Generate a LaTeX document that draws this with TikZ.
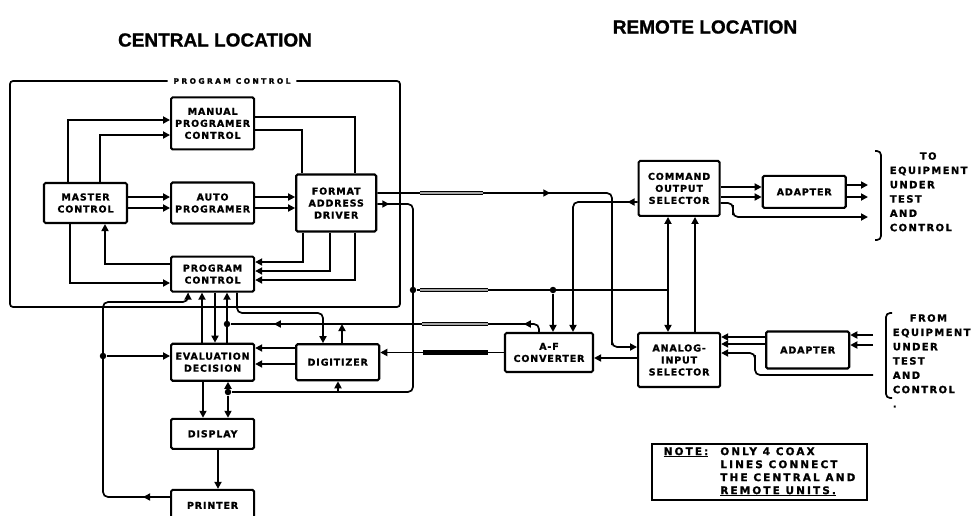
\documentclass[tikz,border=0pt]{standalone}
\usepackage{fontspec}
\usetikzlibrary{positioning,arrows.meta,decorations.markings}
\newfontfamily\blkfont[LetterSpace=9,BoldFeatures={FakeBold=1.2}]{DejaVu Sans}
\newfontfamily\ttlfont[BoldFeatures={FakeBold=1}]{Liberation Sans}

\begin{document}
\begin{tikzpicture}[x=1pt,y=-1pt,line width=1.7pt,>={Triangle[length=7pt,width=7pt]},
  font=\blkfont\bfseries\fontsize{9.5}{12}\selectfont,
  blk/.style={draw,line width=2.1pt,rounded corners=1.5pt,minimum width=83pt,align=center,inner sep=1pt},
  ttl/.style={font=\ttlfont\bfseries\fontsize{19}{22}\selectfont},
  lbl/.style={font=\blkfont\bfseries\fontsize{7.5}{8}\selectfont\addfontfeature{LetterSpace=32},inner xsep=5pt},
  side/.style={font=\blkfont\bfseries\fontsize{10}{14.3}\selectfont\addfontfeature{LetterSpace=14},align=left,inner sep=0pt,anchor=north west},
  dot/.style={circle,fill,inner sep=0pt,minimum size=6.5pt},
  coax/.style={line width=4.5pt},
  coaxh/.style={double=gray!70,double distance=1.3pt,line width=1.6pt},
  midarr/.style={postaction={decorate,decoration={markings,mark=at position #1 with {\arrow{>}}}}}]
  \useasboundingbox (0,0) rectangle (978,515);

  % titles
  \node[ttl] (central) at (215,40) {CENTRAL LOCATION};
  \node[ttl] (remote) at (705,27) {REMOTE LOCATION};

  % central location
  \node[blk,minimum height=40pt] (master) at (85.5,203) {MASTER\\CONTROL};
  \node[blk,minimum height=41pt,right=42pt of master] (auto) {AUTO\\PROGRAMER};
  \node[blk,minimum height=52pt,above=31pt of auto] (manual) {MANUAL\\PROGRAMER\\CONTROL};
  \node[blk,minimum width=80pt,minimum height=57pt,right=40pt of auto] (format) {FORMAT\\ADDRESS\\DRIVER};
  \node[blk,minimum height=35pt,below=31pt of auto] (progctl) {PROGRAM\\CONTROL};
  \node[blk,minimum height=37pt,below=50pt of progctl] (evaldec) {EVALUATION\\DECISION};
  \node[blk,minimum height=36pt,right=40pt of evaldec] (digit) {DIGITIZER};
  \node[blk,minimum height=30pt,below=36pt of evaldec] (display) {DISPLAY};
  \node[blk,minimum height=31pt,below=39pt of display] (printer) {PRINTER};

  % remote location
  \node[blk,minimum width=88pt,minimum height=39pt] (afconv) at (549,352.5) {A-F\\CONVERTER};
  \node[blk,minimum width=82pt,minimum height=54pt,right=43pt of afconv,yshift=-7.5pt] (ais) {ANALOG-\\INPUT\\SELECTOR};
  \node[blk,minimum width=81pt,minimum height=55pt,above=115pt of ais] (cos) {COMMAND\\OUTPUT\\SELECTOR};
  \node[blk,minimum height=32pt,right=41pt of cos,yshift=-3.5pt] (adaptA) {ADAPTER};
  \node[blk,minimum height=37pt,right=44pt of ais,yshift=10pt] (adaptB) {ADAPTER};
  \coordinate (toeq) at (868,0);
  \coordinate (fromeq) at (873,0);

  % program control loop
  \node[lbl] (pclbl) at (232,81) {PROGRAM CONTROL};
  \draw[rounded corners=3pt] (pclbl.west) -| (10,307) -| (400,81) -- (pclbl.east);

  % master / programers / format
  \draw[->] (master.north -| 68,0) |- (manual.west |- 0,120);
  \draw[->] (master.north -| 100,0) |- (manual.west |- 0,135);
  \draw[->] (master.east |- 0,197) -- (auto.west |- 0,197);
  \draw[->] (master.east |- 0,208) -- (auto.west |- 0,208);
  \draw[->] (auto.east |- 0,197) -- (format.west |- 0,197);
  \draw[->] (auto.east |- 0,208) -- (format.west |- 0,208);
  \draw (manual.east |- 0,117) -| (format.north -| 355,0);
  \draw (manual.east |- 0,130) -| (format.north -| 302,0);
  \draw[->] (master.south -| 70,0) |- (progctl.west |- 0,283);
  \draw[->] (progctl.west |- 0,264) -| (master.south -| 105,0);
  \draw[->] (format.south -| 303,0) |- (progctl.east |- 0,262);
  \draw[->] (format.south -| 330,0) |- (progctl.east |- 0,271);
  \draw[->] (format.south -| 355,0) |- (progctl.east |- 0,280);

  % junctions
  \node[dot] (j1) at (228,392) {};
  \node[dot] (j2) at (413,290) {};
  \node[dot] (j3) at (553,290) {};
  \node[dot] (j5) at (227,324) {};
  \node[dot] (j6) at (103,356) {};
  \coordinate (j4) at (668,290);

  % coax lines
  \draw[->,rounded corners=5pt,midarr=173pt] (format.east |- 0,193) -| (612,340) |- (ais.west |- 0,347);
  \draw[rounded corners=5pt,midarr=12pt] (format.east |- 0,204) -| (413,300) |- (j1);
  \draw (j2) -- (j4);
  \draw[->] (j3) -- (afconv.north -| j3);
  \draw[rounded corners=5pt,midarr=21pt,midarr=271pt] (afconv.north -| 539,0) |- (j5);
  \draw[->] (afconv.west) -- (digit.east |- afconv.west);
  \draw[coaxh] (420,193) -- (483,193);
  \draw[coaxh] (420,290) -- (488,290);
  \draw[coaxh] (422,324) -- (488,324);
  \draw[coax] (423,352.5) -- (488,352.5);

  % program control / evaluation / digitizer
  \draw[->] (evaldec.north -| 202,0) -- (progctl.south -| 202,0);
  \draw[->] (progctl.south -| 215,0) -- (evaldec.north -| 215,0);
  \draw[->] (evaldec.north -| j5) -- (progctl.south -| j5);
  \draw[->,rounded corners=5pt] (progctl.south -| 237,0) |- (323,313) -- (digit.north -| 323,0);
  \draw[->] (digit.north -| 342,0) -- (j5 -| 342,0);
  \draw[->] (digit.west |- 0,348) -- (evaldec.east |- 0,348);
  \draw[->] (digit.west |- 0,364) -- (evaldec.east |- 0,364);
  \draw[->] (j1) -- (evaldec.south -| j1);
  \draw[->] (j1) -- (display.north -| j1);
  \draw[->] (j1 -| 338,0) -- (digit.south -| 338,0);
  \draw[->] (evaldec.south -| 203,0) -- (display.north -| 203,0);
  \draw[->] (display.south -| 218,0) -- (printer.north -| 218,0);
  \draw[->,rounded corners=5pt,midarr=27pt] (printer.west |- 0,497) -| (103,302) -| (progctl.south -| 188,0);
  \draw[->] (j6) -- (evaldec.west |- j6);

  % remote connections
  \draw[<->] (cos.south -| 668,0) -- (ais.north -| 668,0);
  \draw[->] (ais.north -| 695,0) -- (cos.south -| 695,0);
  \draw[->,rounded corners=5pt,midarr=10pt] (cos.west |- 0,202) -| (afconv.north -| 573,0);
  \draw[->] (ais.west |- 0,358) -- (afconv.east |- 0,358);
  \draw[->] (cos.east |- 0,187) -- (adaptA.west |- 0,187);
  \draw[->] (cos.east |- 0,197) -- (adaptA.west |- 0,197);
  \draw[->] (adaptA.east |- 0,185) -- (toeq |- 0,185);
  \draw[->] (adaptA.east |- 0,197) -- (toeq |- 0,197);
  \draw[->,rounded corners=5pt] (cos.east |- 0,203) -| (733,210) |- (toeq |- 0,217);
  \draw[->] (fromeq |- 0,335) -- (adaptB.east |- 0,335);
  \draw[->] (fromeq |- 0,345) -- (adaptB.east |- 0,345);
  \draw[->] (adaptB.west |- 0,337) -- (ais.east |- 0,337);
  \draw[->] (adaptB.west |- 0,344) -- (ais.east |- 0,344);
  \draw[->,rounded corners=5pt] (fromeq |- 0,375) -| (755,360) |- (ais.east |- 0,353);

  % equipment side
  \draw[rounded corners=4pt] (875,151) -| (881,240) -- (875,240);
  \draw[rounded corners=4pt] (892,313) -| (886,398) -- (892,398);
  \node[side] (toeqtxt) at (889,151.4) {\hspace*{30pt}TO\\EQUIPMENT\\UNDER\\TEST\\AND\\CONTROL};
  \node[side] (fromeqtxt) at (892,313.4) {\hspace*{17pt}FROM\\EQUIPMENT\\UNDER\\TEST\\AND\\CONTROL\\.};

  % note
  \node[draw,line width=1.8pt,minimum width=215pt,minimum height=56pt,inner sep=1pt,
    font=\blkfont\bfseries\fontsize{10.5}{13}\selectfont\addfontfeature{LetterSpace=20}] (note) at (759.5,472)
    {\begin{tabular}{@{}l@{\hspace{12pt}}l@{}}\underline{NOTE:} & ONLY 4 COAX\\ & LINES CONNECT\\ & THE CENTRAL AND\\ & \underline{REMOTE UNITS.}\end{tabular}};
\end{tikzpicture}
\end{document}
